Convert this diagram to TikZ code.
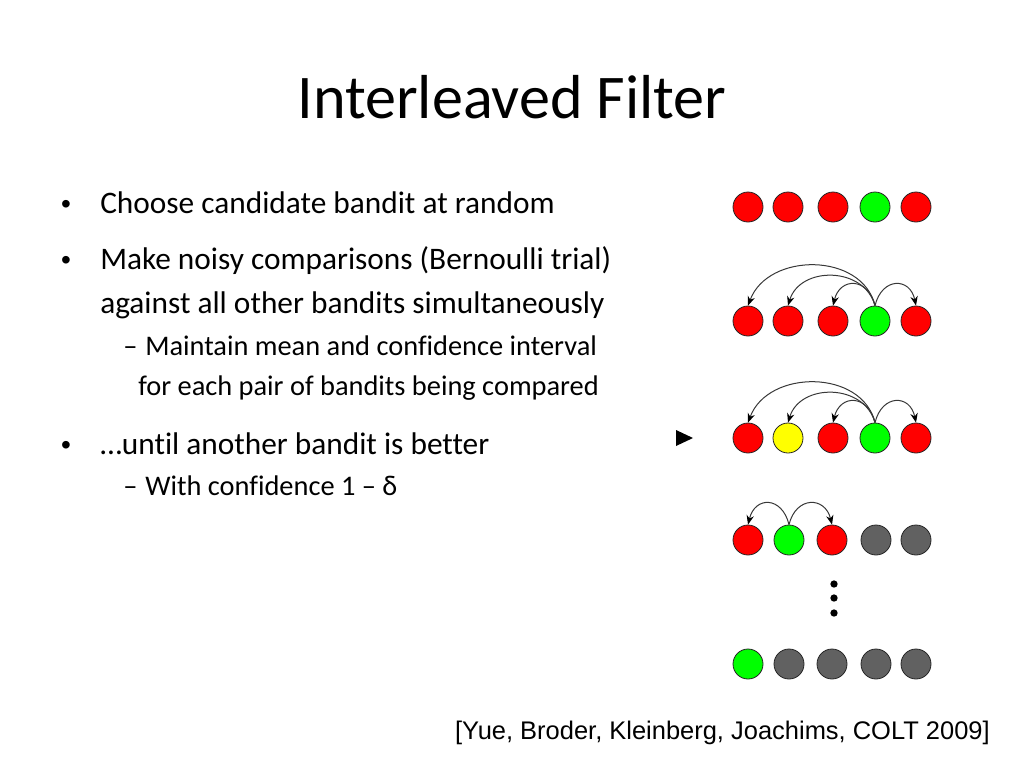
\documentclass[tikz,border=0pt]{standalone}
\usepackage{fontspec}
\setmainfont{Carlito}[Ligatures=NoCommon]
\newfontfamily\citefont{Liberation Sans}
\usetikzlibrary{arrows.meta}
\definecolor{bred}{HTML}{FF0000}
\definecolor{bgreen}{HTML}{00FF00}
\definecolor{byellow}{HTML}{FFFF00}
\definecolor{bgray}{HTML}{616161}
\definecolor{arcgray}{HTML}{383838}
\tikzset{
  ball/.style={circle,draw=black!85,line width=0.6pt,minimum size=22.5pt,inner sep=0pt},
  red/.style={ball,fill=bred},
  grn/.style={ball,fill=bgreen},
  yel/.style={ball,fill=byellow},
  gry/.style={ball,fill=bgray},
  cmp/.style={draw=arcgray,line width=0.75pt,-{Stealth[length=7pt,width=5.5pt,black]}},
  txt/.style={anchor=base west,inner sep=0pt,font=\fontsize{23.5}{27}\selectfont},
  subtxt/.style={anchor=base west,inner sep=0pt,font=\fontsize{21.3}{25}\selectfont},
  bul/.style={anchor=base,inner sep=0pt,font=\citefont\fontsize{21}{25}\selectfont},
  dotb/.style={circle,fill=black,inner sep=0pt,minimum size=5.5pt}
}
\begin{document}
\begin{tikzpicture}[x=0.75pt,y=-0.75pt]
\useasboundingbox (0,0) rectangle (1024,768);
% title
\node[anchor=base,inner sep=0pt,font=\fontsize{46.6}{52}\selectfont] (title) at (512,118) {Interleaved Filter};
% bullets
\node[bul] (b1) at (66,213) {•};
\node[txt] (t1) at (100,213) {Choose candidate bandit at random};
\node[bul] (b2) at (66,269) {•};
\node[txt] (t2) at (100,269) {Make noisy comparisons (Bernoulli trial)};
\node[txt] (t2b) at (100,313) {against all other bandits simultaneously};
\node[subtxt] (d1) at (123,355) {–};
\node[subtxt] (s1) at (145,355) {Maintain mean and confidence interval};
\node[subtxt] (s1b) at (138,395) {for each pair of bandits being compared};
\node[bul] (b3) at (66,454) {•};
\node[txt] (t3) at (100,454) {…until another bandit is better};
\node[subtxt] (d2) at (123,495) {–};
\node[subtxt] (s2) at (145,495) {With confidence 1 – δ};
% citation
\node[anchor=base east,inner sep=0pt,font=\citefont\fontsize{19.1}{23}\selectfont] (cite) at (990,739) {[Yue, Broder, Kleinberg, Joachims, COLT 2009]};
% row 1
\node[red] (a1) at (748,207) {};
\node[red] (a2) at (788,207) {};
\node[red] (a3) at (833,207) {};
\node[grn] (a4) at (875,207) {};
\node[red] (a5) at (916,207) {};
% row 2
\node[red] (b1c) at (748,321) {};
\node[red] (b2c) at (788,321) {};
\node[red] (b3c) at (833,321) {};
\node[grn] (b4c) at (875,321) {};
\node[red] (b5c) at (916,321) {};
\draw[cmp] (b4c.north) .. controls (862,252) and (768,252) .. (b1c.north);
\draw[cmp] (b4c.north) .. controls (864,266) and (800,266) .. (b2c.north);
\draw[cmp] (b4c.north) .. controls (868,277) and (840,277) .. (b3c.north);
\draw[cmp] (b4c.north) .. controls (882,277) and (910,277) .. (b5c.north);
% row 3
\node[red] (c1) at (748,438) {};
\node[yel] (c2) at (788,438) {};
\node[red] (c3) at (833,438) {};
\node[grn] (c4) at (875,438) {};
\node[red] (c5) at (916,438) {};
\draw[cmp] (c4.north) .. controls (862,369) and (768,369) .. (c1.north);
\draw[cmp] (c4.north) .. controls (864,383) and (800,383) .. (c2.north);
\draw[cmp] (c4.north) .. controls (868,394) and (840,394) .. (c3.north);
\draw[cmp] (c4.north) .. controls (882,394) and (910,394) .. (c5.north);
% pointer
\fill (676,430) -- (693,438) -- (676,446) -- cycle;
% row 4
\node[red] (d1c) at (748,540) {};
\node[grn] (d2c) at (789,540) {};
\node[red] (d3c) at (832,540) {};
\node[gry] (d4c) at (876,540) {};
\node[gry] (d5c) at (916,540) {};
\draw[cmp] (d2c.north) .. controls (782,496) and (755,496) .. (d1c.north);
\draw[cmp] (d2c.north) .. controls (796,496) and (825,496) .. (d3c.north);
% dots
\node[dotb] (v1) at (834,584) {};
\node[dotb] (v2) at (834,598) {};
\node[dotb] (v3) at (834,613) {};
% row 5
\node[grn] (e1) at (748,664) {};
\node[gry] (e2) at (789,664) {};
\node[gry] (e3) at (832,664) {};
\node[gry] (e4) at (876,664) {};
\node[gry] (e5) at (916,664) {};
\end{tikzpicture}
\end{document}
